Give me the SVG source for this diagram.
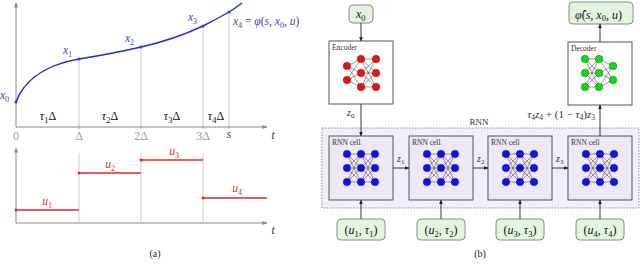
<svg xmlns="http://www.w3.org/2000/svg" xmlns:xlink="http://www.w3.org/1999/xlink" width="640" height="265" viewBox="0 0 640 265">
<style>
text{font-family:"Liberation Serif","DejaVu Serif",serif}
.m{font-style:italic}
.r{font-style:normal}
.axis{stroke:#8a8a8a;stroke-width:1;fill:none}
.grid{stroke:#d4d4d4;stroke-width:1.2}
.curve{stroke:#2a2ad0;stroke-width:1.4;fill:none}
.useg{stroke:#e02828;stroke-width:1.4}
.blue{fill:#3a3ad0}
.red{fill:#e02828}
.gray{fill:#9a9a9a}
.box{fill:#fff;stroke:#555;stroke-width:1}
.cell{fill:#eaeaf6;stroke:#555;stroke-width:1}
.io{fill:#e3f5df;stroke:#8a8a8a;stroke-width:1}
.conn{stroke:#222;stroke-width:0.9;fill:none}
.edge{stroke:#333;stroke-width:0.5}
.small{font-size:7.5px;fill:#333}
</style>
<defs>
<marker id="ah" viewBox="0 0 6 6" refX="5.5" refY="3" markerWidth="5" markerHeight="5" orient="auto">
<path d="M0,0.5 L6,3 L0,5.5 z" fill="#222"/>
</marker>
<marker id="ag" viewBox="0 0 6 6" refX="5.5" refY="3" markerWidth="5" markerHeight="5" orient="auto">
<path d="M0,0.5 L6,3 L0,5.5 z" fill="#888"/>
</marker>
<g id="net3">
<g class="edge">
<line x1="18" y1="18" x2="32" y2="18"/><line x1="18" y1="18" x2="32" y2="32"/><line x1="18" y1="18" x2="32" y2="46"/>
<line x1="18" y1="32" x2="32" y2="18"/><line x1="18" y1="32" x2="32" y2="32"/><line x1="18" y1="32" x2="32" y2="46"/>
<line x1="18" y1="46" x2="32" y2="18"/><line x1="18" y1="46" x2="32" y2="32"/><line x1="18" y1="46" x2="32" y2="46"/>
<line x1="32" y1="18" x2="46" y2="18"/><line x1="32" y1="18" x2="46" y2="32"/><line x1="32" y1="18" x2="46" y2="46"/>
<line x1="32" y1="32" x2="46" y2="18"/><line x1="32" y1="32" x2="46" y2="32"/><line x1="32" y1="32" x2="46" y2="46"/>
<line x1="32" y1="46" x2="46" y2="18"/><line x1="32" y1="46" x2="46" y2="32"/><line x1="32" y1="46" x2="46" y2="46"/>
</g>
<g fill="#1010ee" stroke="#223" stroke-width="0.4">
<circle cx="18" cy="18" r="3.8"/><circle cx="18" cy="32" r="3.8"/><circle cx="18" cy="46" r="3.8"/>
<circle cx="32" cy="18" r="3.8"/><circle cx="32" cy="32" r="3.8"/><circle cx="32" cy="46" r="3.8"/>
<circle cx="46" cy="18" r="3.8"/><circle cx="46" cy="32" r="3.8"/><circle cx="46" cy="46" r="3.8"/>
</g>
</g>
</defs>

<!-- (a) left plots -->
<g id="plot-state">
<line class="grid" x1="79" y1="59" x2="79" y2="127"/>
<line class="grid" x1="141" y1="47" x2="141" y2="127"/>
<line class="grid" x1="203" y1="26" x2="203" y2="127"/>
<line class="grid" x1="229" y1="12" x2="229" y2="127"/>
<line class="axis" x1="16" y1="127" x2="16" y2="3" marker-end="url(#ag)"/>
<line class="axis" x1="16" y1="127" x2="267" y2="127" marker-end="url(#ag)"/>
<g stroke="#aaa" stroke-width="1"><line x1="79" y1="125" x2="79" y2="129"/><line x1="141" y1="125" x2="141" y2="129"/><line x1="203" y1="125" x2="203" y2="129"/><line x1="229" y1="125" x2="229" y2="129"/></g>
<path class="curve" d="M16,102 C22,86 38,66 79,59 C104,55 124,51 141,47 C168,41 188,33 203,26 C213,21 222,16 229,12 C234,9 238,6 242,3"/>
<g class="blue"><circle cx="16" cy="102" r="1.6"/><circle cx="79" cy="59" r="1.6"/><circle cx="141" cy="47" r="1.6"/><circle cx="203" cy="26" r="1.6"/><circle cx="229" cy="12" r="1.6"/></g>
<g class="m blue" font-size="11.5">
<text x="0" y="99">x<tspan font-size="8" dy="2.5" font-style="normal">0</tspan></text>
<text x="63" y="54">x<tspan font-size="8" dy="2.5" font-style="normal">1</tspan></text>
<text x="125" y="42">x<tspan font-size="8" dy="2.5" font-style="normal">2</tspan></text>
<text x="188" y="21">x<tspan font-size="8" dy="2.5" font-style="normal">3</tspan></text>
<text x="233" y="25">x<tspan font-size="8" dy="2.5" font-style="normal">4</tspan><tspan dy="-2.5" font-style="normal"> = </tspan>φ<tspan font-style="normal">(</tspan>s<tspan font-style="normal">, </tspan>x<tspan font-size="8" dy="2.5" font-style="normal">0</tspan><tspan dy="-2.5" font-style="normal">, </tspan>u<tspan font-style="normal">)</tspan></text>
</g>
<g class="m" font-size="12" fill="#111" text-anchor="middle">
<text x="48" y="120">τ<tspan font-size="8.5" dy="2.5" font-style="normal">1</tspan><tspan dy="-2.5" font-style="normal">Δ</tspan></text>
<text x="110" y="120">τ<tspan font-size="8.5" dy="2.5" font-style="normal">2</tspan><tspan dy="-2.5" font-style="normal">Δ</tspan></text>
<text x="172" y="120">τ<tspan font-size="8.5" dy="2.5" font-style="normal">3</tspan><tspan dy="-2.5" font-style="normal">Δ</tspan></text>
<text x="216" y="120">τ<tspan font-size="8.5" dy="2.5" font-style="normal">4</tspan><tspan dy="-2.5" font-style="normal">Δ</tspan></text>
</g>
<g class="r gray" font-size="12" text-anchor="middle">
<text x="16" y="140">0</text><text x="79" y="140">Δ</text><text x="141" y="140">2Δ</text><text x="203" y="140">3Δ</text>
</g>
<text class="m" x="229" y="138" font-size="11.5" text-anchor="middle" fill="#333">s</text>
<text class="m" x="273" y="139" font-size="11.5" text-anchor="middle" fill="#333">t</text>
</g>

<g id="plot-input">
<line class="grid" x1="79" y1="153" x2="79" y2="223"/>
<line class="grid" x1="141" y1="153" x2="141" y2="223"/>
<line class="grid" x1="203" y1="153" x2="203" y2="223"/>
<line class="axis" x1="16" y1="223" x2="16" y2="148" marker-end="url(#ag)"/>
<line class="axis" x1="16" y1="223" x2="267" y2="223" marker-end="url(#ag)"/>
<line class="useg" x1="16" y1="210" x2="79" y2="210"/>
<line class="useg" x1="79" y1="173" x2="141" y2="173"/>
<line class="useg" x1="141" y1="160" x2="203" y2="160"/>
<line class="useg" x1="203" y1="198" x2="267" y2="198"/>
<g class="red"><circle cx="16" cy="210" r="1.5"/><circle cx="79" cy="173" r="1.5"/><circle cx="141" cy="160" r="1.5"/><circle cx="203" cy="198" r="1.5"/></g>
<g class="m red" font-size="11.5" text-anchor="middle">
<text x="47" y="205">u<tspan font-size="8" dy="2.5" font-style="normal">1</tspan></text>
<text x="110" y="168">u<tspan font-size="8" dy="2.5" font-style="normal">2</tspan></text>
<text x="174" y="155">u<tspan font-size="8" dy="2.5" font-style="normal">3</tspan></text>
<text x="237" y="192">u<tspan font-size="8" dy="2.5" font-style="normal">4</tspan></text>
</g>
<text class="m" x="273" y="234" font-size="11.5" text-anchor="middle" fill="#333">t</text>
</g>
<text class="r" x="155" y="257" font-size="10" text-anchor="middle" fill="#222">(a)</text>

<!-- (b) network -->
<g id="rnn-frame">
<rect x="322" y="128" width="317" height="80" fill="#efeffa" stroke="#8a8a8a" stroke-width="1" stroke-dasharray="1.5,1.5"/>
<text class="r" x="479" y="125" font-size="9" text-anchor="middle" fill="#333">RNN</text>
</g>

<g id="x0-input">
<rect class="io" x="349" y="5" width="24" height="18" rx="4"/>
<text class="m" x="356" y="18" font-size="12" fill="#111">x<tspan font-size="8.5" dy="2.5" font-style="normal">0</tspan></text>
</g>

<g id="output">
<rect class="io" x="569" y="2" width="64" height="22" rx="4"/>
<text class="m" x="575" y="18.5" font-size="12" fill="#111">φ̂<tspan font-style="normal">(</tspan>s<tspan font-style="normal">, </tspan>x<tspan font-size="8.5" dy="2.5" font-style="normal">0</tspan><tspan dy="-2.5" font-style="normal">, </tspan>u<tspan font-style="normal">)</tspan></text>
</g>

<g id="encoder">
<rect class="box" x="329" y="41" width="64" height="63"/>
<text class="small" x="332" y="50">Encoder</text>
<g class="edge">
<line x1="347" y1="66" x2="361" y2="59"/><line x1="347" y1="66" x2="361" y2="73"/><line x1="347" y1="66" x2="361" y2="87"/>
<line x1="347" y1="80" x2="361" y2="59"/><line x1="347" y1="80" x2="361" y2="73"/><line x1="347" y1="80" x2="361" y2="87"/>
<line x1="361" y1="59" x2="376" y2="59"/><line x1="361" y1="59" x2="376" y2="73"/><line x1="361" y1="59" x2="376" y2="87"/>
<line x1="361" y1="73" x2="376" y2="59"/><line x1="361" y1="73" x2="376" y2="73"/><line x1="361" y1="73" x2="376" y2="87"/>
<line x1="361" y1="87" x2="376" y2="59"/><line x1="361" y1="87" x2="376" y2="73"/><line x1="361" y1="87" x2="376" y2="87"/>
</g>
<g fill="#ee1010" stroke="#322" stroke-width="0.4">
<circle cx="347" cy="66" r="3.8"/><circle cx="347" cy="80" r="3.8"/>
<circle cx="361" cy="59" r="3.8"/><circle cx="361" cy="73" r="3.8"/><circle cx="361" cy="87" r="3.8"/>
<circle cx="376" cy="59" r="3.8"/><circle cx="376" cy="73" r="3.8"/><circle cx="376" cy="87" r="3.8"/>
</g>
</g>

<g id="decoder">
<rect class="box" x="568" y="42" width="64" height="63"/>
<text class="small" x="571" y="51">Decoder</text>
<g class="edge">
<line x1="585" y1="59" x2="599" y2="59"/><line x1="585" y1="59" x2="599" y2="73"/><line x1="585" y1="59" x2="599" y2="87"/>
<line x1="585" y1="73" x2="599" y2="59"/><line x1="585" y1="73" x2="599" y2="73"/><line x1="585" y1="73" x2="599" y2="87"/>
<line x1="585" y1="87" x2="599" y2="59"/><line x1="585" y1="87" x2="599" y2="73"/><line x1="585" y1="87" x2="599" y2="87"/>
<line x1="599" y1="59" x2="613" y2="66"/><line x1="599" y1="59" x2="613" y2="80"/>
<line x1="599" y1="73" x2="613" y2="66"/><line x1="599" y1="73" x2="613" y2="80"/>
<line x1="599" y1="87" x2="613" y2="66"/><line x1="599" y1="87" x2="613" y2="80"/>
</g>
<g fill="#10dd10" stroke="#232" stroke-width="0.4">
<circle cx="585" cy="59" r="3.8"/><circle cx="585" cy="73" r="3.8"/><circle cx="585" cy="87" r="3.8"/>
<circle cx="599" cy="59" r="3.8"/><circle cx="599" cy="73" r="3.8"/><circle cx="599" cy="87" r="3.8"/>
<circle cx="613" cy="66" r="3.8"/><circle cx="613" cy="80" r="3.8"/>
</g>
</g>

<g id="cell1"><rect class="cell" x="329" y="136" width="64" height="64"/><text class="small" x="332" y="145">RNN cell</text><use xlink:href="#net3" x="329" y="136"/></g>
<g id="cell2"><rect class="cell" x="409" y="136" width="64" height="64"/><text class="small" x="412" y="145">RNN cell</text><use xlink:href="#net3" x="409" y="136"/></g>
<g id="cell3"><rect class="cell" x="488" y="136" width="64" height="64"/><text class="small" x="491" y="145">RNN cell</text><use xlink:href="#net3" x="488" y="136"/></g>
<g id="cell4"><rect class="cell" x="568" y="136" width="64" height="64"/><text class="small" x="571" y="145">RNN cell</text><use xlink:href="#net3" x="568" y="136"/></g>

<g id="in1"><rect class="io" x="337" y="219" width="48" height="21" rx="4"/><text class="m" x="361" y="234" font-size="12" text-anchor="middle" fill="#111"><tspan font-style="normal">(</tspan>u<tspan font-size="8.5" dy="2.5" font-style="normal">1</tspan><tspan dy="-2.5" font-style="normal">, </tspan>τ<tspan font-size="8.5" dy="2.5" font-style="normal">1</tspan><tspan dy="-2.5" font-style="normal">)</tspan></text></g>
<g id="in2"><rect class="io" x="417" y="219" width="48" height="21" rx="4"/><text class="m" x="441" y="234" font-size="12" text-anchor="middle" fill="#111"><tspan font-style="normal">(</tspan>u<tspan font-size="8.5" dy="2.5" font-style="normal">2</tspan><tspan dy="-2.5" font-style="normal">, </tspan>τ<tspan font-size="8.5" dy="2.5" font-style="normal">2</tspan><tspan dy="-2.5" font-style="normal">)</tspan></text></g>
<g id="in3"><rect class="io" x="496" y="219" width="48" height="21" rx="4"/><text class="m" x="520" y="234" font-size="12" text-anchor="middle" fill="#111"><tspan font-style="normal">(</tspan>u<tspan font-size="8.5" dy="2.5" font-style="normal">3</tspan><tspan dy="-2.5" font-style="normal">, </tspan>τ<tspan font-size="8.5" dy="2.5" font-style="normal">3</tspan><tspan dy="-2.5" font-style="normal">)</tspan></text></g>
<g id="in4"><rect class="io" x="576" y="219" width="48" height="21" rx="4"/><text class="m" x="600" y="234" font-size="12" text-anchor="middle" fill="#111"><tspan font-style="normal">(</tspan>u<tspan font-size="8.5" dy="2.5" font-style="normal">4</tspan><tspan dy="-2.5" font-style="normal">, </tspan>τ<tspan font-size="8.5" dy="2.5" font-style="normal">4</tspan><tspan dy="-2.5" font-style="normal">)</tspan></text></g>

<g id="connectors">
<line class="conn" x1="361" y1="23" x2="361" y2="41" marker-end="url(#ah)"/>
<line class="conn" x1="361" y1="104" x2="361" y2="136" marker-end="url(#ah)"/>
<line class="conn" x1="393" y1="168" x2="409" y2="168" marker-end="url(#ah)"/>
<line class="conn" x1="473" y1="168" x2="488" y2="168" marker-end="url(#ah)"/>
<line class="conn" x1="552" y1="168" x2="568" y2="168" marker-end="url(#ah)"/>
<line class="conn" x1="600" y1="136" x2="600" y2="105" marker-end="url(#ah)"/>
<line class="conn" x1="600" y1="42" x2="600" y2="24" marker-end="url(#ah)"/>
<line class="conn" x1="361" y1="219" x2="361" y2="200" marker-end="url(#ah)"/>
<line class="conn" x1="441" y1="219" x2="441" y2="200" marker-end="url(#ah)"/>
<line class="conn" x1="520" y1="219" x2="520" y2="200" marker-end="url(#ah)"/>
<line class="conn" x1="600" y1="219" x2="600" y2="200" marker-end="url(#ah)"/>
<g class="m" font-size="10" fill="#333">
<text x="347" y="116">z<tspan font-size="7" dy="2" font-style="normal">0</tspan></text>
<text x="397" y="162">z<tspan font-size="7" dy="2" font-style="normal">1</tspan></text>
<text x="477" y="162">z<tspan font-size="7" dy="2" font-style="normal">2</tspan></text>
<text x="556" y="162">z<tspan font-size="7" dy="2" font-style="normal">3</tspan></text>
<text x="595" y="118" text-anchor="end" font-size="11">τ<tspan font-size="7.5" dy="2" font-style="normal">4</tspan><tspan dy="-2">z</tspan><tspan font-size="7.5" dy="2" font-style="normal">4</tspan><tspan dy="-2" font-style="normal"> + (1 − </tspan>τ<tspan font-size="7.5" dy="2" font-style="normal">4</tspan><tspan dy="-2" font-style="normal">)</tspan>z<tspan font-size="7.5" dy="2" font-style="normal">3</tspan></text>
</g>
</g>
<text class="r" x="480" y="257" font-size="10" text-anchor="middle" fill="#222">(b)</text>
</svg>
